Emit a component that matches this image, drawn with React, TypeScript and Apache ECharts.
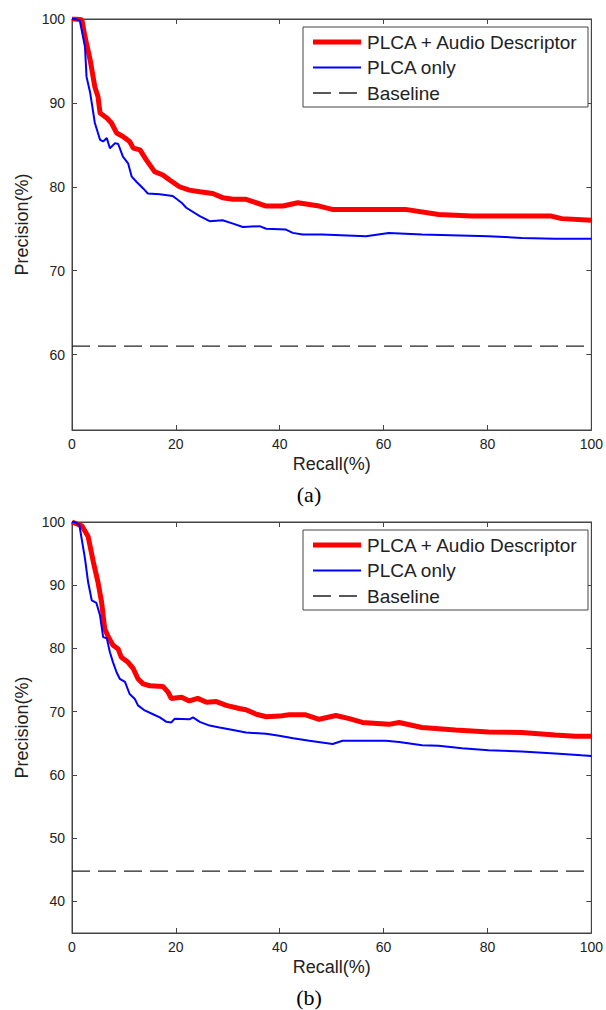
import React, { useEffect, useRef } from 'react';
import * as echarts from 'echarts';

// ---------- data ----------
const recallTicks = [0, 20, 40, 60, 80, 100];
const precisionTicksA = [60, 70, 80, 90, 100];
const precisionTicksB = [40, 50, 60, 70, 80, 90, 100];
const precisionRangeA = [51, 100];
const precisionRangeB = [35, 100];
const seriesNames = ['PLCA + Audio Descriptor', 'PLCA only', 'Baseline'];
const panelLabels = ['(a)', '(b)'];

// [recall %, precision %]
const audioDescA = [
  [0, 100], [0.6, 100], [1.9, 99.9], [2.5, 97.9], [3.5, 95.1], [4.4, 91.9], [5.0, 90.75], [5.4, 88.8],
  [6.7, 88.2], [7.6, 87.6], [8.6, 86.4], [9.8, 86.0], [11.1, 85.4], [11.8, 84.6], [13.1, 84.4],
  [14.3, 83.2], [15.9, 81.8], [17.5, 81.4], [18.8, 80.8], [20.7, 80.0], [22.6, 79.6], [24.6, 79.4],
  [27.1, 79.2], [29, 78.7], [31, 78.5], [33.5, 78.5], [37.4, 77.7], [40.6, 77.7], [43.5, 78.1],
  [47.6, 77.7], [50.1, 77.3], [57.8, 77.3], [64.2, 77.3], [70.6, 76.7], [77, 76.5], [86.6, 76.5],
  [92.3, 76.5], [94.3, 76.2], [100, 76.0],
];
const plcaOnlyA = [
  [0, 100], [0.6, 100], [1.5, 99.8], [2.5, 96.7], [2.8, 93.1], [3.5, 91.2], [4.4, 87.6], [5.4, 85.6],
  [6.0, 85.4], [6.7, 85.8], [7.3, 84.6], [8.3, 85.2], [8.9, 85.1], [9.8, 83.6], [10.8, 82.8],
  [11.5, 81.2], [12.4, 80.6], [13.7, 79.8], [14.6, 79.2], [16.9, 79.1], [19.4, 78.9], [21.1, 78.1],
  [22.0, 77.5], [24.6, 76.5], [26.5, 75.9], [29.0, 76.0], [31, 75.6], [32.9, 75.2], [36.1, 75.3],
  [37.4, 75.0], [41.2, 74.9], [42.5, 74.5], [44.4, 74.3], [48.2, 74.3], [56.6, 74.1], [61.0, 74.5],
  [67.4, 74.3], [80.2, 74.1], [86.6, 73.9], [93, 73.8], [100, 73.8],
];
const audioDescB = [
  [0, 100], [0.6, 99.8], [1.9, 99.4], [3.1, 97.7], [4.1, 93.7], [5.0, 90.5], [5.7, 87.3], [6.3, 83.1],
  [7.0, 81.8], [7.9, 80.5], [8.9, 79.9], [9.5, 78.6], [10.8, 77.8], [11.8, 76.8], [12.7, 75.2],
  [13.7, 74.4], [15.0, 74.1], [17.5, 74.0], [18.5, 73.1], [19.1, 72.1], [21.1, 72.3], [22.6, 71.7],
  [24.2, 72.1], [25.9, 71.5], [27.8, 71.6], [29.7, 71.0], [32.2, 70.5], [33.5, 70.3], [35.5, 69.6],
  [37.4, 69.2], [39.9, 69.3], [41.8, 69.5], [45, 69.5], [47.6, 68.8], [50.8, 69.4], [53.4, 68.9],
  [55.9, 68.3], [61.0, 68.0], [63, 68.3], [67.4, 67.5], [73.8, 67.1], [80.2, 66.8], [86.6, 66.7],
  [93, 66.3], [96.9, 66.1], [100, 66.1],
];
const plcaOnlyB = [
  [0, 100], [0.6, 100], [1.4, 99.6], [2.5, 94.2], [3.1, 90.5], [3.8, 87.6], [4.7, 87.2], [5.4, 85.2],
  [6.0, 81.8], [6.7, 81.6], [7.3, 79.4], [7.9, 77.8], [8.6, 76.2], [9.2, 75.2], [10.2, 74.7],
  [11.1, 72.8], [12.1, 72.0], [12.7, 71.0], [14.0, 70.2], [15.6, 69.6], [16.9, 69.1], [18.2, 68.4],
  [19.1, 68.3], [19.8, 68.9], [22.6, 68.8], [23.3, 69.1], [24.6, 68.4], [26.5, 67.8], [28.4, 67.5],
  [31, 67.1], [33.5, 66.7], [37.4, 66.5], [39.9, 66.2], [42.6, 65.8], [45.7, 65.4], [50.2, 64.9],
  [52.1, 65.4], [60.4, 65.4], [63, 65.2], [67.4, 64.7], [70.6, 64.6], [75.1, 64.2], [80.2, 63.9],
  [86.6, 63.7], [93, 63.4], [98.1, 63.1], [100, 63.0],
];
const baselineA = 61;
const baselineB = 44.8;

// ---------- styles ----------
const SANS = "'Liberation Sans', Arial, sans-serif";
const SERIF = "'Liberation Serif', 'Times New Roman', serif";
const AXIS_COLOR = '#444';
const TEXT_COLOR = '#222';
const RED = '#ff0000';
const BLUE = '#0000ff';
const DASH = '#222';

const grids = [
  { left: 72, top: 19, width: 521, height: 411, show: true, borderColor: AXIS_COLOR, borderWidth: 1, backgroundColor: 'transparent' },
  { left: 72, top: 522, width: 521, height: 411, show: true, borderColor: AXIS_COLOR, borderWidth: 1, backgroundColor: 'transparent' },
];

function buildOption() {
  const panels = [
    { range: precisionRangeA, ticks: precisionTicksA, red: audioDescA, blue: plcaOnlyA, base: baselineA },
    { range: precisionRangeB, ticks: precisionTicksB, red: audioDescB, blue: plcaOnlyB, base: baselineB },
  ];
  const xAxis: any[] = [];
  const yAxis: any[] = [];
  const series: any[] = [];
  const graphic: any[] = [];
  const axisLine = { show: true, onZero: false, lineStyle: { color: AXIS_COLOR, width: 1 } };
  const tick = { show: true, inside: true, length: 5, lineStyle: { color: AXIS_COLOR, width: 1 } };

  panels.forEach((p, gi) => {
    xAxis.push({
      type: 'value', gridIndex: gi, position: 'bottom', min: recallTicks[0],
      max: recallTicks[recallTicks.length - 1], interval: recallTicks[1] - recallTicks[0],
      axisLine, axisTick: tick, splitLine: { show: false },
      axisLabel: { color: TEXT_COLOR, fontSize: 14, fontFamily: SANS, margin: 7 },
      name: 'Recall(%)', nameLocation: 'middle', nameGap: 25,
      nameTextStyle: { color: TEXT_COLOR, fontSize: 18, fontFamily: SANS },
    });
    xAxis.push({
      type: 'value', gridIndex: gi, position: 'top', min: recallTicks[0],
      max: recallTicks[recallTicks.length - 1], interval: recallTicks[1] - recallTicks[0],
      axisLine, axisTick: tick, splitLine: { show: false }, axisLabel: { show: false },
    });
    yAxis.push({
      type: 'value', gridIndex: gi, position: 'left', min: p.range[0], max: p.range[1],
      axisLine, splitLine: { show: false },
      axisTick: { ...tick, customValues: p.ticks },
      axisLabel: { color: TEXT_COLOR, fontSize: 14, fontFamily: SANS, margin: 7, customValues: p.ticks },
      name: 'Precision(%)', nameLocation: 'middle', nameGap: 38, nameRotate: 90,
      nameTextStyle: { color: TEXT_COLOR, fontSize: 18, fontFamily: SANS },
    });
    yAxis.push({
      type: 'value', gridIndex: gi, position: 'right', min: p.range[0], max: p.range[1],
      axisLine, splitLine: { show: false },
      axisTick: { ...tick, customValues: p.ticks },
      axisLabel: { show: false, customValues: p.ticks },
    });
    const ax = gi * 2;
    series.push({
      type: 'line', name: seriesNames[0], xAxisIndex: ax, yAxisIndex: ax, data: p.red,
      symbol: 'none', lineStyle: { color: RED, width: 5 }, itemStyle: { color: RED }, z: 2,
    });
    series.push({
      type: 'line', name: seriesNames[1], xAxisIndex: ax, yAxisIndex: ax, data: p.blue,
      symbol: 'none', lineStyle: { color: BLUE, width: 2 }, itemStyle: { color: BLUE }, z: 3,
    });
    series.push({
      type: 'line', name: seriesNames[2], xAxisIndex: ax, yAxisIndex: ax,
      data: [[recallTicks[0], p.base], [recallTicks[recallTicks.length - 1], p.base]],
      symbol: 'none', lineStyle: { color: DASH, width: 1.3, type: [18, 8] }, itemStyle: { color: DASH }, z: 2,
    });

    // legend box
    const g = grids[gi];
    const bx = 303;
    const by = g.top + 8;
    const rowY = [15, 40.5, 66];
    const lineStyles = [
      { stroke: RED, lineWidth: 5 },
      { stroke: BLUE, lineWidth: 2 },
      { stroke: DASH, lineWidth: 1.3, lineDash: [18, 8] },
    ];
    graphic.push({
      type: 'rect', shape: { x: bx, y: by, width: 285, height: 80 },
      style: { fill: '#fff', stroke: AXIS_COLOR, lineWidth: 1 }, z: 10,
    });
    seriesNames.forEach((nm, i) => {
      graphic.push({
        type: 'line', shape: { x1: bx + 10, y1: by + rowY[i], x2: bx + 58, y2: by + rowY[i] },
        style: lineStyles[i], z: 11,
      });
      graphic.push({
        type: 'text', x: bx + 64, y: by + rowY[i], z: 11,
        style: {
          text: nm, fill: TEXT_COLOR, fontSize: 19, fontFamily: SANS,
          align: 'left', verticalAlign: 'middle', textAlign: 'left', textVerticalAlign: 'middle',
        },
      });
    });
    graphic.push({
      type: 'text', x: 309, y: g.top + g.height + 64, z: 11,
      style: {
        text: panelLabels[gi], fill: '#000', fontSize: 22, fontFamily: SERIF,
        align: 'center', verticalAlign: 'middle', textAlign: 'center', textVerticalAlign: 'middle',
      },
    });
  });

  return {
    animation: false,
    backgroundColor: '#fff',
    grid: grids,
    xAxis,
    yAxis,
    series,
    graphic,
  };
}

export default function App() {
  const ref = useRef<HTMLDivElement>(null);
  useEffect(() => {
    if (!ref.current) return;
    const chart = echarts.init(ref.current, undefined, { renderer: 'svg' });
    chart.setOption(buildOption() as any);
    return () => chart.dispose();
  }, []);
  return (
    <div
      ref={ref}
      style={{ position: 'absolute', left: 0, top: 0, width: 606, height: 1010, background: '#fff' }}
    />
  );
}
